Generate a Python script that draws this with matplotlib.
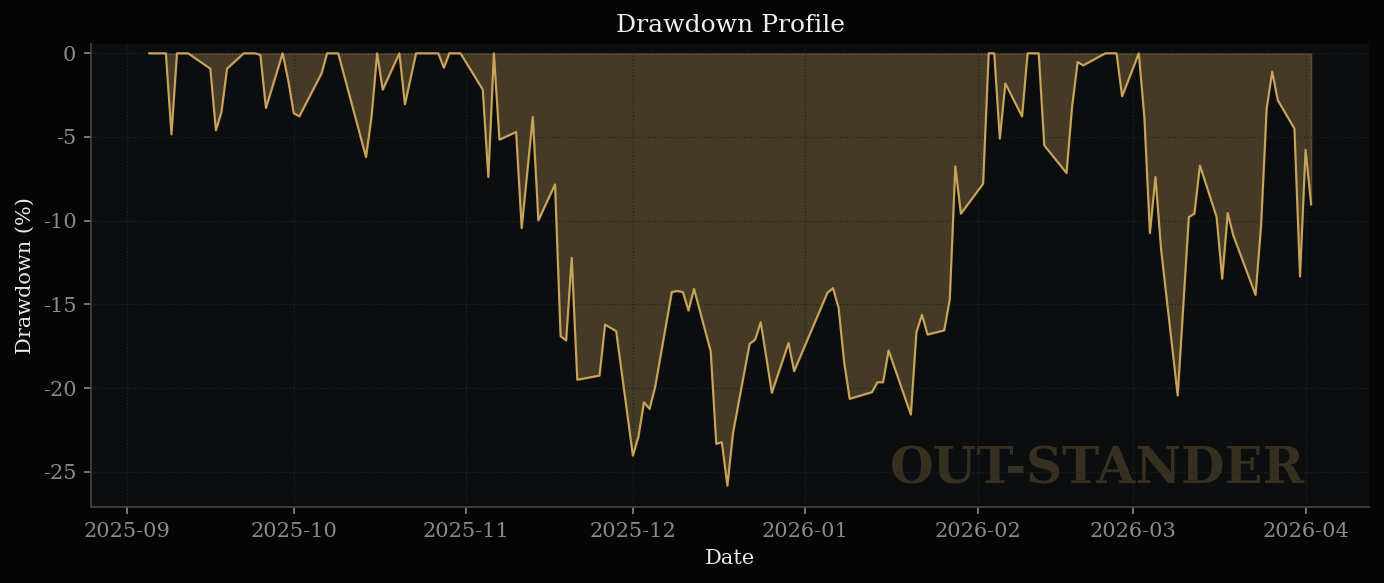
import numpy as np
import pandas as pd
import matplotlib
matplotlib.use("Agg")
import matplotlib.pyplot as plt
import matplotlib.dates as mdates

# drawdown readings (%), one per trading day
dates = [
    "2025-09-05", "2025-09-08", "2025-09-09", "2025-09-10", "2025-09-12",
    "2025-09-16", "2025-09-17", "2025-09-18", "2025-09-19", "2025-09-22",
    "2025-09-24", "2025-09-25", "2025-09-26", "2025-09-29", "2025-09-30",
    "2025-10-01", "2025-10-02", "2025-10-06", "2025-10-07", "2025-10-09",
    "2025-10-14", "2025-10-15", "2025-10-16", "2025-10-17", "2025-10-20",
    "2025-10-21", "2025-10-23", "2025-10-27", "2025-10-28", "2025-10-29",
    "2025-10-31", "2025-11-04", "2025-11-05", "2025-11-06", "2025-11-07",
    "2025-11-10", "2025-11-11", "2025-11-13", "2025-11-14", "2025-11-17",
    "2025-11-18", "2025-11-19", "2025-11-20", "2025-11-21", "2025-11-25",
    "2025-11-26", "2025-11-28", "2025-12-01", "2025-12-02", "2025-12-03",
    "2025-12-04", "2025-12-05", "2025-12-08", "2025-12-09", "2025-12-10",
    "2025-12-11", "2025-12-12", "2025-12-15", "2025-12-16", "2025-12-17",
    "2025-12-18", "2025-12-19", "2025-12-22", "2025-12-23", "2025-12-24",
    "2025-12-26", "2025-12-29", "2025-12-30", "2026-01-05", "2026-01-06",
    "2026-01-07", "2026-01-08", "2026-01-09", "2026-01-13", "2026-01-14",
    "2026-01-15", "2026-01-16", "2026-01-20", "2026-01-21", "2026-01-22",
    "2026-01-23", "2026-01-26", "2026-01-27", "2026-01-28", "2026-01-29",
    "2026-02-02", "2026-02-03", "2026-02-04", "2026-02-05", "2026-02-06",
    "2026-02-09", "2026-02-10", "2026-02-11", "2026-02-12", "2026-02-13",
    "2026-02-17", "2026-02-18", "2026-02-19", "2026-02-20", "2026-02-24",
    "2026-02-25", "2026-02-26", "2026-02-27", "2026-03-02", "2026-03-03",
    "2026-03-04", "2026-03-05", "2026-03-06", "2026-03-09", "2026-03-11",
    "2026-03-12", "2026-03-13", "2026-03-16", "2026-03-17", "2026-03-18",
    "2026-03-19", "2026-03-23", "2026-03-24", "2026-03-25", "2026-03-26",
    "2026-03-27", "2026-03-30", "2026-03-31", "2026-04-01", "2026-04-02",
]
drawdown = [
    0.0, 0.0, -4.84, 0.0, 0.0,
    -0.92, -4.6, -3.5, -0.92, 0.0,
    0.0, -0.1, -3.27, 0.0, -1.6,
    -3.57, -3.77, -1.2, 0.0, 0.0,
    -6.2, -3.77, 0.0, -2.17, 0.0,
    -3.05, 0.0, 0.0, -0.86, 0.0,
    0.0, -2.17, -7.39, 0.0, -5.16,
    -4.7, -10.44, -3.8, -9.98, -7.83,
    -16.9, -17.15, -12.21, -19.5, -19.25,
    -16.2, -16.6, -24.03, -22.9, -20.84,
    -21.24, -19.94, -14.26, -14.2, -14.26,
    -15.36, -14.07, -17.8, -23.33, -23.23,
    -25.82, -22.7, -17.35, -17.1, -16.06,
    -20.28, -17.3, -18.99, -14.3, -14.03,
    -15.2, -18.45, -20.64, -20.24, -19.65,
    -19.65, -17.75, -21.58, -16.66, -15.62,
    -16.8, -16.55, -14.7, -6.75, -9.58,
    -7.79, 0.0, 0.0, -5.1, -1.8,
    -3.77, 0.0, 0.0, 0.0, -5.5,
    -7.15, -3.2, -0.52, -0.72, 0.0,
    0.0, 0.0, -2.57, 0.0, -3.8,
    -10.74, -7.39, -11.68, -20.44, -9.78,
    -9.58, -6.7, -9.78, -13.47, -9.54,
    -10.88, -14.43, -10.28, -3.3, -1.1,
    -2.8, -4.5, -13.33, -5.76, -9.03,
]

x = pd.to_datetime(dates)
y = np.array(drawdown)

gold = "#c9a45a"
plt.rcParams["font.family"] = ["DejaVu Serif"]
plt.rcParams["axes.unicode_minus"] = False

fig = plt.figure(figsize=(1384 / 150, 583 / 150), dpi=150, facecolor="#050505")
ax = fig.add_axes([0.0658, 0.1304, 0.9235, 0.794])
ax.set_facecolor("#0b0d0f")

ax.fill_between(x, y, 0, color=gold, alpha=0.3, linewidth=0.8)
ax.plot(x, y, color=gold, linewidth=1.0)

ax.set_ylim(-27.1, 0.55)
ax.set_title("Drawdown Profile", color="#f0f0f0", fontsize=12, pad=6)
ax.set_xlabel("Date", color="#e8e8e8", fontsize=10)
ax.set_ylabel("Drawdown (%)", color="#e8e8e8", fontsize=10)

ax.xaxis.set_major_locator(mdates.MonthLocator())
ax.xaxis.set_major_formatter(mdates.DateFormatter("%Y-%m"))
ax.set_yticks([0, -5, -10, -15, -20, -25])

ax.tick_params(colors="#8a8a8a", labelsize=10)
ax.grid(True, color="#222426", linestyle=":", linewidth=0.6)
for s in ["top", "right"]:
    ax.spines[s].set_visible(False)
for s in ["left", "bottom"]:
    ax.spines[s].set_color("#444444")

ax.text(0.95, 0.028, "OUT-STANDER", transform=ax.transAxes, ha="right", va="bottom",
        fontsize=24, fontweight="bold", color="#363020", zorder=0)

fig.savefig("out.png", dpi=150, facecolor=fig.get_facecolor())
